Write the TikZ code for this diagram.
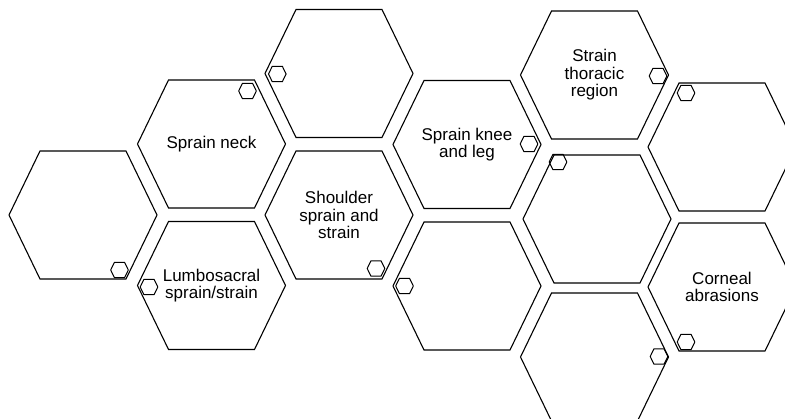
\documentclass[tikz,border=0pt]{standalone}
\usepackage{fontspec}
\setmainfont{Liberation Sans}
\tikzset{
  hexline/.style={draw=black, line width=1.1pt, line join=miter},
  smallline/.style={draw=black, line width=1pt, line join=miter},
  pics/bighex/.style={code={\draw[hexline] (-74,0) -- (-43,-64) -- (43,-64) -- (74,0) -- (43,64) -- (-43,64) -- cycle;}},
  pics/smallhex/.style={code={\draw[smallline] (-8.8,0) -- (-5.1,-7.6) -- (5.1,-7.6) -- (8.8,0) -- (5.1,7.6) -- (-5.1,7.6) -- cycle;}},
  hextext/.style={font=\fontsize{17}{17.6}\selectfont, align=center, text=black, inner sep=0pt}
}
\begin{document}
\begin{tikzpicture}[x=1pt, y=-1pt]
\useasboundingbox (0,0) rectangle (785,419);
\clip (0,0) rectangle (785,419);
% big hexagons
\foreach \hx/\hy in {83/215, 211.5/144, 211.5/285.5, 339/73.5, 339/215, 467/144.5, 467/286, 594.5/75, 597/219, 594.5/357, 722/147, 722/287}
  \pic at (\hx,\hy) {bighex};
% small hexagons
\foreach \sx/\sy in {119.5/270, 247.5/91, 149/287, 277.3/74, 376/268.5, 529/144, 404.5/286, 658/76, 686/93, 558/162, 659/356.5, 686/342}
  \pic at (\sx,\sy) {smallhex};
% labels
\node[hextext] (neck) at (211.5,144) {Sprain neck};
\node[hextext] (lumbo) at (211.5,285.5) {Lumbosacral\\sprain/strain};
\node[hextext] (shoulder) at (339,215) {Shoulder\\sprain and\\strain};
\node[hextext] (knee) at (467,144.5) {Sprain knee\\and leg};
\node[hextext] (thoracic) at (594.5,75) {Strain\\thoracic\\region};
\node[hextext] (corneal) at (722,287) {Corneal\\abrasions};
\end{tikzpicture}
\end{document}
